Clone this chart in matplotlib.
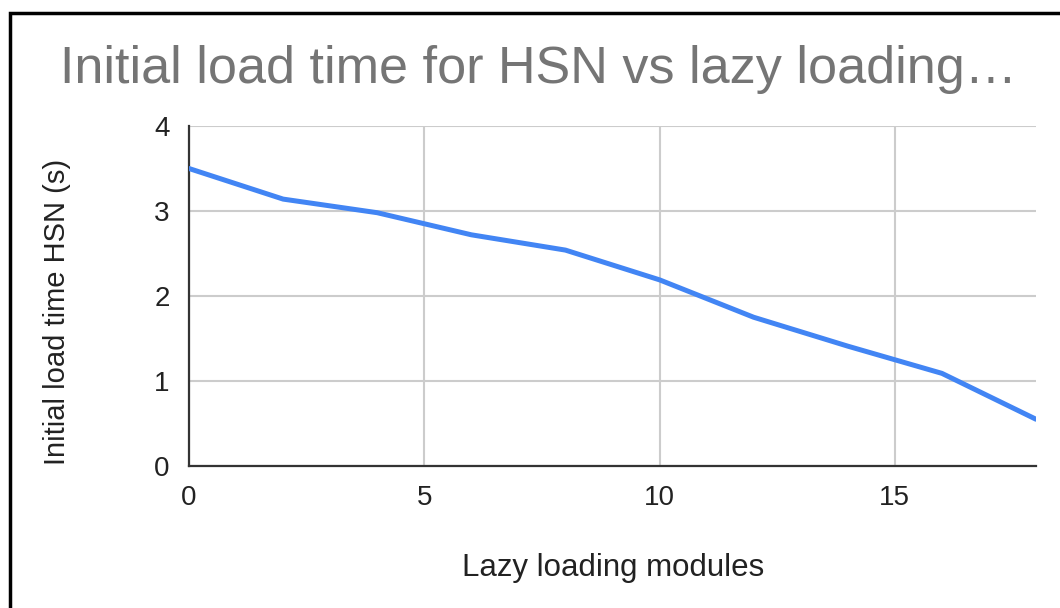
import matplotlib.pyplot as plt
from matplotlib.patches import Rectangle

# Data
modules = [0, 2, 4, 6, 8, 10, 12, 14, 16, 18]
load_time = [3.50, 3.14, 2.98, 2.72, 2.54, 2.19, 1.75, 1.41, 1.09, 0.55]

x_ticks = [0, 5, 10, 15]
y_ticks = [0, 1, 2, 3, 4]

plt.rcParams['font.family'] = ['Liberation Sans', 'DejaVu Sans']

fig = plt.figure(figsize=(10.6, 6.08), dpi=100)
ax = fig.add_axes([189 / 1060, 1 - 466 / 608, (1036 - 189) / 1060, (466 - 126) / 608])

ax.plot(modules, load_time, color='#4285f4', linewidth=3.6, solid_capstyle='round', zorder=3)

ax.set_xlim(0, 18)
ax.set_ylim(0, 4)
ax.set_xticks(x_ticks)
ax.set_yticks(y_ticks)
ax.tick_params(length=0, labelsize=20, labelcolor='#222222')
ax.tick_params(axis='x', pad=14)
ax.tick_params(axis='y', pad=14)
ax.grid(True, color='#cccccc', linewidth=1.5)
ax.set_axisbelow(True)

for side in ['top', 'right']:
    ax.spines[side].set_visible(False)
ax.spines['left'].set_color('#333333')
ax.spines['bottom'].set_color('#333333')
ax.spines['left'].set_linewidth(1.6)
ax.spines['bottom'].set_linewidth(1.6)

ax.set_xlabel("Lazy loading modules", fontsize=22.5, color='#222222', va='center')
ax.set_ylabel("Initial load time HSN (s)", fontsize=21, color='#222222', va='center')
ax.xaxis.set_label_coords((613 - 189) / 847, (466 - 568) / 340)
ax.yaxis.set_label_coords((57 - 189) / 847, (466 - 312) / 340)

fig.text(0.508, 1 - 70 / 608, "Initial load time for HSN vs lazy loading\u2026",
         fontsize=37.5, color='#757575', ha='center', va='center')

# frame around the chart
fig.patches.append(Rectangle((10 / 1060, -0.1), 1.2, 1 - 13 / 608 + 0.1,
                             transform=fig.transFigure, fill=False,
                             edgecolor='black', linewidth=2.5))

plt.savefig("out.png", dpi=100)
